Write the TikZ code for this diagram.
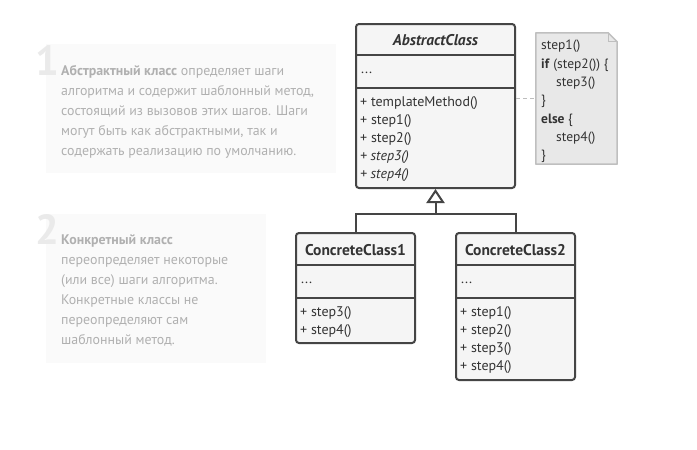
\documentclass[tikz,border=0pt]{standalone}
\usepackage{fontspec}
\setmainfont{PT Sans}
\usetikzlibrary{arrows.meta}
\definecolor{bord}{HTML}{454545}
\definecolor{boxfill}{HTML}{F5F5F5}
\definecolor{umltxt}{HTML}{333333}
\definecolor{notefill}{HTML}{E8E8E8}
\definecolor{notebord}{HTML}{BFBFBF}
\definecolor{dashcol}{HTML}{BDBDBD}
\definecolor{panelbg}{HTML}{FAFAFA}
\definecolor{paneltxt}{HTML}{B0B0B0}
\definecolor{numcol}{HTML}{EAEAEA}
\tikzset{
  classbox/.style={draw=bord, line width=2pt, fill=boxfill, rounded corners=3pt, inner sep=0pt},
  divider/.style={draw=bord, line width=2pt},
  umltext/.style={text=umltxt, font=\fontsize{14}{18}\selectfont, inner sep=0pt, align=left},
  umlhead/.style={text=umltxt, font=\fontsize{15.5}{17}\selectfont\bfseries, inner sep=0pt},
  notetext/.style={text=umltxt, font=\fontsize{13.5}{18.3}\selectfont, inner sep=0pt, align=left},
  panel/.style={fill=panelbg, draw=none, inner sep=0pt},
  paneltext/.style={text=paneltxt, font=\fontsize{13.9}{20}\selectfont, inner sep=0pt, align=left},
  numtext/.style={text=numcol, font=\fontsize{42}{42}\selectfont\bfseries, inner sep=0pt},
  inh/.style={draw=bord, line width=2pt},
  dashline/.style={draw=dashcol, line width=1.5pt, dash pattern=on 4pt off 3pt},
}
\begin{document}
\begin{tikzpicture}[x=1pt,y=-1pt]
\useasboundingbox[fill=white] (0,0) rectangle (697,450);

% ---- explanatory panels ----
\node[panel, minimum width=290pt, minimum height=129pt, anchor=north west] (p1) at (46,44) {};
\node[numtext, anchor=base west] (n1) at (35,75.5) {1};
\node[paneltext, anchor=north west] (t1) at (61,65.5) {\textbf{Абстрактный класс} определяет шаги\\
алгоритма и содержит шаблонный метод,\\
состоящий из вызовов этих шагов. Шаги\\
могут быть как абстрактными, так и\\
содержать реализацию по умолчанию.};

\node[panel, minimum width=220pt, minimum height=149pt, anchor=north west] (p2) at (46,214) {};
\node[numtext, anchor=base west] (n2) at (35,244.5) {2};
\node[paneltext, anchor=north west] (t2) at (61,234.5) {\textbf{Конкретный класс}\\
переопределяет некоторые\\
(или все) шаги алгоритма.\\
Конкретные классы не\\
переопределяют сам\\
шаблонный метод.};

% ---- AbstractClass ----
\node[classbox, minimum width=159pt, minimum height=164pt] (abs) at (435.5,106) {};
\draw[divider] (abs.west |- 0,55) -- (abs.east |- 0,55);
\draw[divider] (abs.west |- 0,88) -- (abs.east |- 0,88);
\node[umlhead, font=\fontsize{15.5}{17}\selectfont\bfseries\itshape] (absh) at (435.5,40.5) {AbstractClass};
\node[umltext, anchor=west] (absf) at (361,73) {...};
\node[umltext, anchor=north west] (absm) at (360,96.5) {+ templateMethod()\\
+ step1()\\
+ step2()\\
\textit{+ step3()}\\
\textit{+ step4()}};

% ---- note ----
\node[minimum width=81pt, minimum height=131pt, inner sep=0pt] (note) at (576.5,98.5) {};
\draw[draw=notebord, fill=notefill, line width=1.5pt, line join=round]
  (note.north west) -- ([xshift=-9pt]note.north east) -- ([yshift=-9pt]note.north east)
  -- (note.south east) -- (note.south west) -- cycle;
\draw[draw=notebord, line width=1.2pt] ([xshift=-9pt]note.north east) -- ([xshift=-9pt,yshift=-9pt]note.north east) -- ([yshift=-9pt]note.north east);
\node[notetext, anchor=north west] (notet) at (541,40) {step1()\\
\textbf{if} (step2()) \{\\
\hspace*{15pt}step3()\\
\}\\
\textbf{else} \{\\
\hspace*{15pt}step4()\\
\}};
\draw[dashline] (abs.east |- note.west) -- (note.west);

% ---- ConcreteClass1 ----
\node[classbox, minimum width=119pt, minimum height=110pt] (cc1) at (355.5,288) {};
\draw[divider] (cc1.west |- 0,265) -- (cc1.east |- 0,265);
\draw[divider] (cc1.west |- 0,298) -- (cc1.east |- 0,298);
\node[umlhead] (cc1h) at (355.5,250) {ConcreteClass1};
\node[umltext, anchor=west] (cc1f) at (301,283) {...};
\node[umltext, anchor=north west] (cc1m) at (300,306.5) {+ step3()\\
+ step4()};

% ---- ConcreteClass2 ----
\node[classbox, minimum width=119pt, minimum height=147pt] (cc2) at (515.5,306.5) {};
\draw[divider] (cc2.west |- 0,265) -- (cc2.east |- 0,265);
\draw[divider] (cc2.west |- 0,298) -- (cc2.east |- 0,298);
\node[umlhead] (cc2h) at (515.5,250) {ConcreteClass2};
\node[umltext, anchor=west] (cc2f) at (461,283) {...};
\node[umltext, anchor=north west] (cc2m) at (460,306.5) {+ step1()\\
+ step2()\\
+ step3()\\
+ step4()};

% ---- inheritance ----
\coordinate (jn) at (435.5,213.5);
\draw[inh] (cc1.north) |- (jn) -| (cc2.north);
\draw[inh, -{Triangle[open, width=18pt, length=14pt, line width=2pt]}] (jn) -- (abs.south);
\end{tikzpicture}
\end{document}
